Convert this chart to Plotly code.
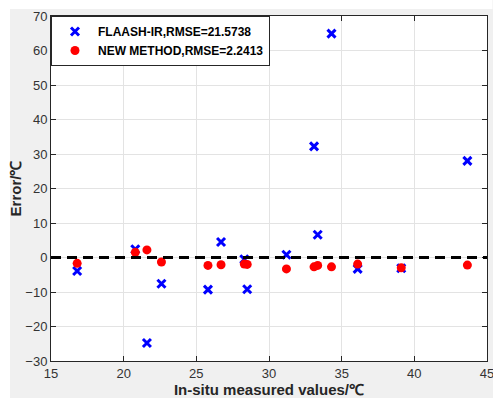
import plotly.graph_objects as go

# Data
insitu = [16.8, 20.8, 21.6, 22.6, 25.8, 26.7, 28.3, 28.5, 31.2, 33.1, 33.35, 34.3, 36.1, 39.1, 43.65]
flaash_err = [-3.9, 2.4, -24.8, -7.6, -9.3, 4.5, -0.5, -9.2, 0.8, 32.2, 6.6, 64.9, -3.3, -3.1, 28.0]
new_err = [-1.7, 1.5, 2.2, -1.3, -2.3, -2.1, -1.9, -2.0, -3.3, -2.7, -2.3, -2.7, -1.9, -3.0, -2.2]

series_names = ["FLAASH-IR,RMSE=21.5738", "NEW METHOD,RMSE=2.2413"]
x_ticks = [15, 20, 25, 30, 35, 40, 45]
y_ticks = [-30, -20, -10, 0, 10, 20, 30, 40, 50, 60, 70]

W, H = 493, 398
ML, MR, MT, MB = 51, 5.5, 16, 37
pw, ph = W - ML - MR, H - MT - MB
FONT = "Liberation Sans, Arial, sans-serif"

fig = go.Figure()
fig.add_trace(go.Scatter(
    x=insitu, y=flaash_err, mode="markers", name="<b>" + series_names[0] + "</b>",
    marker=dict(symbol="x-thin", size=8, color="#0000ff",
                line=dict(color="#0000ff", width=3)),
))
fig.add_trace(go.Scatter(
    x=insitu, y=new_err, mode="markers", name="<b>" + series_names[1] + "</b>",
    marker=dict(symbol="circle", size=9, color="#ff0000", line=dict(width=0)),
))

axis_common = dict(
    showgrid=True, gridcolor="#e3e3e3", gridwidth=1,
    showline=True, linecolor="#262626", linewidth=1, mirror="ticks",
    ticks="inside", ticklen=5, tickcolor="#262626",
    zeroline=False, ticklabeloverflow="allow", automargin=False,
    tickfont=dict(family=FONT, size=13, color="#333333"),
)

fig.update_xaxes(range=[15, 45], tickvals=x_ticks, **axis_common,
                 title=dict(text="<b>In-situ measured values/℃</b>", standoff=4,
                            font=dict(family=FONT, size=15, color="#262626")))
fig.update_yaxes(range=[-30, 70], tickvals=y_ticks, **axis_common,
                 title=dict(text="<b>Error/℃</b>", standoff=0,
                            font=dict(family=FONT, size=15, color="#262626")))

shapes = [
    # zero reference dashed line
    dict(type="line", xref="paper", yref="y", x0=0, x1=1, y0=0, y1=0,
         line=dict(color="black", width=3, dash="10px,6px"), layer="above"),
    # white strips at top and left of the gray figure background
    dict(type="rect", xref="paper", yref="paper",
         x0=-ML / pw, x1=(W - ML) / pw, y0=(H - MB - 9) / ph, y1=(H - MB) / ph,
         fillcolor="white", line=dict(width=0), layer="below"),
    dict(type="rect", xref="paper", yref="paper",
         x0=-ML / pw, x1=(10 - ML) / pw, y0=-MB / ph, y1=(H - MB) / ph,
         fillcolor="white", line=dict(width=0), layer="below"),
]

fig.update_layout(
    width=W, height=H,
    margin=dict(l=ML, r=MR, t=MT, b=MB, autoexpand=False),
    paper_bgcolor="#f0f0f0", plot_bgcolor="white",
    shapes=shapes,
    showlegend=True,
    legend=dict(x=0, y=1, xanchor="left", yanchor="top",
                bgcolor="white", bordercolor="#262626", borderwidth=1,
                font=dict(family=FONT, size=12, color="black"),
                itemwidth=36, tracegroupgap=0),
    font=dict(family=FONT),
)

fig.write_html("out.html")
